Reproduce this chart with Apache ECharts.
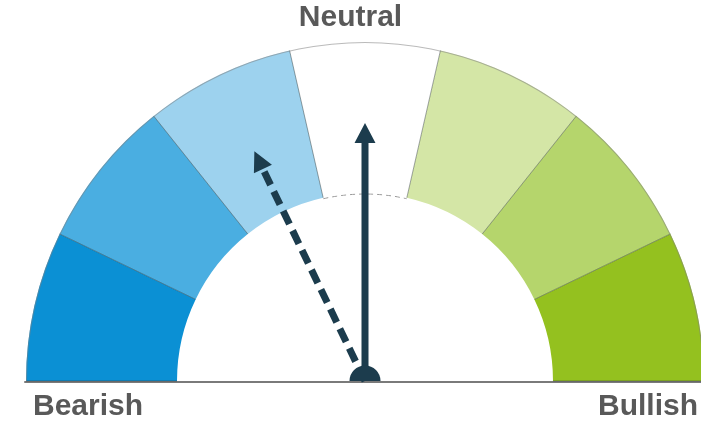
<!DOCTYPE html>
<html>
<head>
<meta charset="utf-8">
<script src="https://cdn.jsdelivr.net/npm/echarts@6/dist/echarts.min.js"></script>
<style>
  html, body { margin: 0; padding: 0; background: #fff; }
  #main { width: 701px; height: 423px; }
</style>
</head>
<body>
<div id="main"></div>
<script>
// 7 zones, Bearish -> Neutral -> Bullish
var zoneColors = ['#0b90d4', '#4aaee1', '#9dd2ee', '#ffffff', '#d4e6a6', '#b5d56c', '#94c11f']
var zoneCount = zoneColors.length
var endLabels = ['Bearish', 'Neutral', 'Bullish']
// needle values on the 0..7 scale
var needleNames = ['Current', 'Previous']
var needleValues = [3.5, 2.5]

var cx = 365, cy = 381
var outerR = 339, innerR = 188
var needleColor = '#1c3c4d'
var textColor = '#595959'

var colorStops = zoneColors.map(function (c, i) {
    return [(i + 1) / zoneCount, c]
})

// solid arrow
var solidIcon = 'path://M10.5,0 L21,20 L14,20 L14,258 L7,258 L7,20 L0,20 Z'
// dashed arrow: head + dash blocks
var dashedIcon = 'path://M10,0 L20,19 L0,19 Z'
for (var y = 22; y < 252; y += 21) {
    var y2 = Math.min(y + 14, 252)
    dashedIcon += ' M6.5,' + y + ' L13.5,' + y + ' L13.5,' + y2 + ' L6.5,' + y2 + ' Z'
}

function bareGauge(extra) {
    var base = {
        type: 'gauge',
        center: [cx, cy],
        radius: outerR,
        startAngle: 180,
        endAngle: 0,
        min: 0,
        max: zoneCount,
        splitNumber: zoneCount,
        axisLine: { show: false, lineStyle: { width: 0 } },
        splitLine: { show: false },
        axisTick: { show: false },
        axisLabel: { show: false },
        pointer: { show: false },
        anchor: { show: false },
        title: { show: false },
        detail: { show: false },
        data: []
    }
    for (var k in extra) base[k] = extra[k]
    return base
}

var chart = echarts.init(document.getElementById('main'))
var option = {
    animation: false,
    backgroundColor: '#fff',
    title: [
        { text: endLabels[1], left: 'center', top: 3, padding: 0,
          textStyle: { fontSize: 30, fontWeight: 'bold', color: textColor, fontFamily: 'Liberation Sans' } },
        { text: endLabels[0], left: 33, top: 392, padding: 0,
          textStyle: { fontSize: 30, fontWeight: 'bold', color: textColor, fontFamily: 'Liberation Sans' } },
        { text: endLabels[2], right: 3, top: 392, padding: 0,
          textStyle: { fontSize: 30, fontWeight: 'bold', color: textColor, fontFamily: 'Liberation Sans' } }
    ],
    grid: { left: 25, right: 0, top: 0, bottom: 41 },
    xAxis: {
        type: 'value', min: 0, max: 1,
        axisLine: { show: true, lineStyle: { color: '#7a7a7a', width: 2 } },
        axisTick: { show: false }, axisLabel: { show: false }, splitLine: { show: false }
    },
    yAxis: { type: 'value', show: false, min: 0, max: 1 },
    polar: { center: [cx, cy], radius: innerR - 1 },
    angleAxis: {
        type: 'value', min: 0, max: 1,
        startAngle: 180 - 3 / zoneCount * 180,
        endAngle: 180 - 4 / zoneCount * 180,
        axisLine: { show: true, lineStyle: { color: '#9a9a9a', width: 1, type: [5, 4] } },
        axisTick: { show: false }, axisLabel: { show: false }, splitLine: { show: false }
    },
    radiusAxis: { show: false, min: 0, max: 1 },
    series: [
        // coloured band
        bareGauge({
            z: 1,
            axisLine: { show: true, roundCap: false, lineStyle: { width: outerR - innerR, color: colorStops } },
            splitLine: { show: true, length: outerR - innerR, distance: -(outerR - innerR),
                lineStyle: { color: 'rgba(40,50,50,0.45)', width: 1 } }
        }),
        // thin outer edge
        bareGauge({
            z: 2,
            axisLine: { show: true, roundCap: false, lineStyle: { width: 1, color: [[1, 'rgba(130,130,130,0.55)']] } }
        }),
        // previous reading, dashed
        bareGauge({
            z: 5,
            pointer: { show: true, icon: dashedIcon, length: 255, width: 20, offsetCenter: [0, 0] },
            itemStyle: { color: needleColor },
            data: [{ name: needleNames[1], value: needleValues[1] }]
        }),
        // current reading, solid
        bareGauge({
            z: 6,
            pointer: { show: true, icon: solidIcon, length: 258, width: 21, offsetCenter: [0, 0] },
            itemStyle: { color: needleColor },
            anchor: { show: true, showAbove: true, size: 31, icon: 'path://M0,10A10,10 0 0 1 20,10Z',
                keepAspect: true, offsetCenter: [0, -7.75], itemStyle: { color: needleColor } },
            data: [{ name: needleNames[0], value: needleValues[0] }]
        })
    ]
}
chart.setOption(option)
</script>
</body>
</html>
